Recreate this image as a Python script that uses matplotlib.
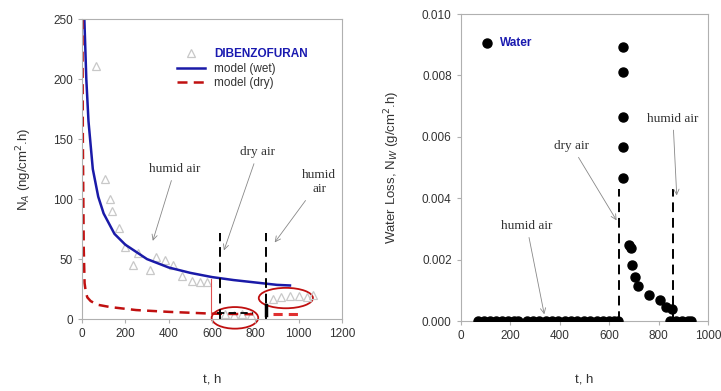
import matplotlib
matplotlib.use("Agg")
import matplotlib.pyplot as plt
from matplotlib.patches import Ellipse

plt.rcParams['font.family'] = ['Liberation Sans', 'DejaVu Sans']

# ---- left panel data (dibenzofuran flux) ----
tri_t = [65, 106, 129, 140, 171, 200, 235, 260, 314, 340, 383, 420, 461, 508, 545, 577,
         660, 700, 740, 780, 880, 920, 960, 1000, 1040, 1066]
tri_n = [211, 117, 100, 90, 76, 60, 45, 55, 41, 52, 49, 45, 36, 32, 31, 31,
         4, 3, 4, 3, 17, 18, 19, 19, 18, 20]

wet_t = [11, 20, 30, 50, 75, 100, 150, 200, 300, 400, 500, 600, 700, 800, 900, 960]
wet_n = [250, 200, 165, 125, 102, 88, 71, 62, 50, 43, 38.5, 35, 32.5, 30.5, 28.5, 28]

dry_t = [2, 4, 8, 12, 18, 25, 40, 70, 130, 250, 400, 600, 790]
dry_n = [250, 150, 60, 30, 22, 18, 15, 12, 10, 7.5, 6, 4.5, 4]
dry2_t = [880, 1000]
dry2_n = [4, 4]

# ---- right panel data (water loss) ----
w_t = [70, 94, 118, 142, 166, 190, 214, 231,
       267, 293, 318, 344, 369, 395, 420, 446, 471, 497, 522,
       551, 575, 600, 620, 636,
       656, 656, 656, 656, 656,
       680, 688, 692, 704, 716, 761, 806, 830, 854,
       846, 870, 895, 920, 931]
w_n = [0] * 8 + [0] * 11 + [0] * 5 + \
      [0.00893, 0.00811, 0.00665, 0.00567, 0.00466,
       0.00248, 0.00238, 0.00182, 0.00143, 0.00114, 0.00085, 0.00068, 0.00046, 0.00039] + \
      [0] * 5

fig = plt.figure(figsize=(7.21, 3.91), dpi=100)
ax1 = fig.add_axes([0.1137, 0.184, 0.3606, 0.767])
ax2 = fig.add_axes([0.639, 0.179, 0.343, 0.785])

grey = '#b0b0b0'
txt = '#333333'
arrow = dict(arrowstyle='->', color='#888888', lw=0.6)

# left panel
ax1.plot(tri_t, tri_n, '^', mfc='none', mec='#c8c8c8', ms=6, mew=0.9, label='DIBENZOFURAN')
ax1.plot(wet_t, wet_n, '-', color='#1a1aa8', lw=1.8, label='model (wet)')
ax1.plot(dry_t, dry_n, '--', color='#c01010', lw=1.8, dashes=(4, 2.5), label='model (dry)')
ax1.plot(dry2_t, dry2_n, '--', color='#e03030', lw=2.2, dashes=(3, 2))
ax1.plot([625, 790], [5, 5], '--', color='black', lw=1.3, dashes=(4, 2.5))
ax1.plot([637, 637], [0, 72], '--', color='black', lw=1.4, dashes=(5, 3))
ax1.plot([849, 849], [0, 72], '--', color='black', lw=1.4, dashes=(5, 3))
ax1.plot([849, 849], [3, 12], '-', color='black', lw=2.5)
ax1.plot([595, 595], [4, 33], '-', color='#e05050', lw=0.8)
ax1.add_patch(Ellipse((706, 1), 215, 18, fill=False, ec='#c01010', lw=1.3, clip_on=False))
ax1.add_patch(Ellipse((941, 17.5), 250, 17, fill=False, ec='#c01010', lw=1.3, clip_on=False))

ax1.annotate('humid air', xy=(323, 63), xytext=(429, 120), ha='center', va='bottom',
             family='Liberation Serif', fontsize=9.5, color=txt, arrowprops=arrow)
ax1.annotate('dry air', xy=(651, 55), xytext=(812, 134), ha='center', va='bottom',
             family='Liberation Serif', fontsize=9.5, color=txt, arrowprops=arrow)
ax1.annotate('humid\nair', xy=(882, 62), xytext=(1094, 103), ha='center', va='bottom',
             family='Liberation Serif', fontsize=9.5, color=txt, linespacing=1.3,
             arrowprops=arrow)

ax1.set_xlim(0, 1200)
ax1.set_ylim(0, 250)
ax1.set_xticks(range(0, 1201, 200))
ax1.set_yticks(range(0, 251, 50))
ax1.set_xlabel('t, h', fontsize=9.5, color=txt, labelpad=24)
ax1.set_ylabel('N$_A$ (ng/cm$^2$.h)', fontsize=9.5, color=txt, labelpad=14)
leg = ax1.legend(loc='upper right', bbox_to_anchor=(0.9, 0.93), frameon=False,
                 fontsize=8.5, handlelength=2.3, labelspacing=0.2, borderpad=0.2)
for t in leg.get_texts():
    t.set_color(txt)
leg.get_texts()[0].set_color('#1a1ab0')
leg.get_texts()[0].set_fontweight('bold')

# right panel
ax2.plot(w_t, w_n, 'o', color='black', ms=6.5, zorder=3)
ax2.plot([640, 640], [0, 0.0043], '--', color='black', lw=1.4, dashes=(5, 3))
ax2.plot([858, 858], [0, 0.0043], '--', color='black', lw=1.4, dashes=(5, 3))
ax2.plot([105], [0.00906], 'o', color='black', ms=6.5)
ax2.text(160, 0.00906, 'Water', color='#1a1ab0', fontweight='bold', fontsize=8.5, va='center')

ax2.annotate('dry air', xy=(636, 0.0032), xytext=(449, 0.0055), ha='center', va='bottom',
             family='Liberation Serif', fontsize=9.5, color=txt, arrowprops=arrow)
ax2.annotate('humid air', xy=(874, 0.0040), xytext=(858, 0.0064), ha='center', va='bottom',
             family='Liberation Serif', fontsize=9.5, color=txt, arrowprops=arrow)
ax2.annotate('humid air', xy=(340, 0.00013), xytext=(267, 0.0029), ha='center', va='bottom',
             family='Liberation Serif', fontsize=9.5, color=txt, arrowprops=arrow)

ax2.set_xlim(0, 1000)
ax2.set_ylim(0, 0.010)
ax2.set_xticks(range(0, 1001, 200))
ax2.set_yticks([0, 0.002, 0.004, 0.006, 0.008, 0.010])
ax2.set_yticklabels(['0.000', '0.002', '0.004', '0.006', '0.008', '0.010'])
ax2.set_xlabel('t, h', fontsize=9.5, color=txt, labelpad=23)
ax2.set_ylabel('Water Loss, N$_W$ (g/cm$^2$.h)', fontsize=9.5, color=txt, labelpad=14)

for ax in (ax1, ax2):
    for s in ax.spines.values():
        s.set_color(grey)
        s.set_linewidth(0.8)
    ax.tick_params(colors=grey, labelcolor=txt, labelsize=8.5, length=3, width=0.8)
    for lab in ax.get_xticklabels() + ax.get_yticklabels():
        lab.set_color(txt)

fig.savefig('out.png', dpi=100)
